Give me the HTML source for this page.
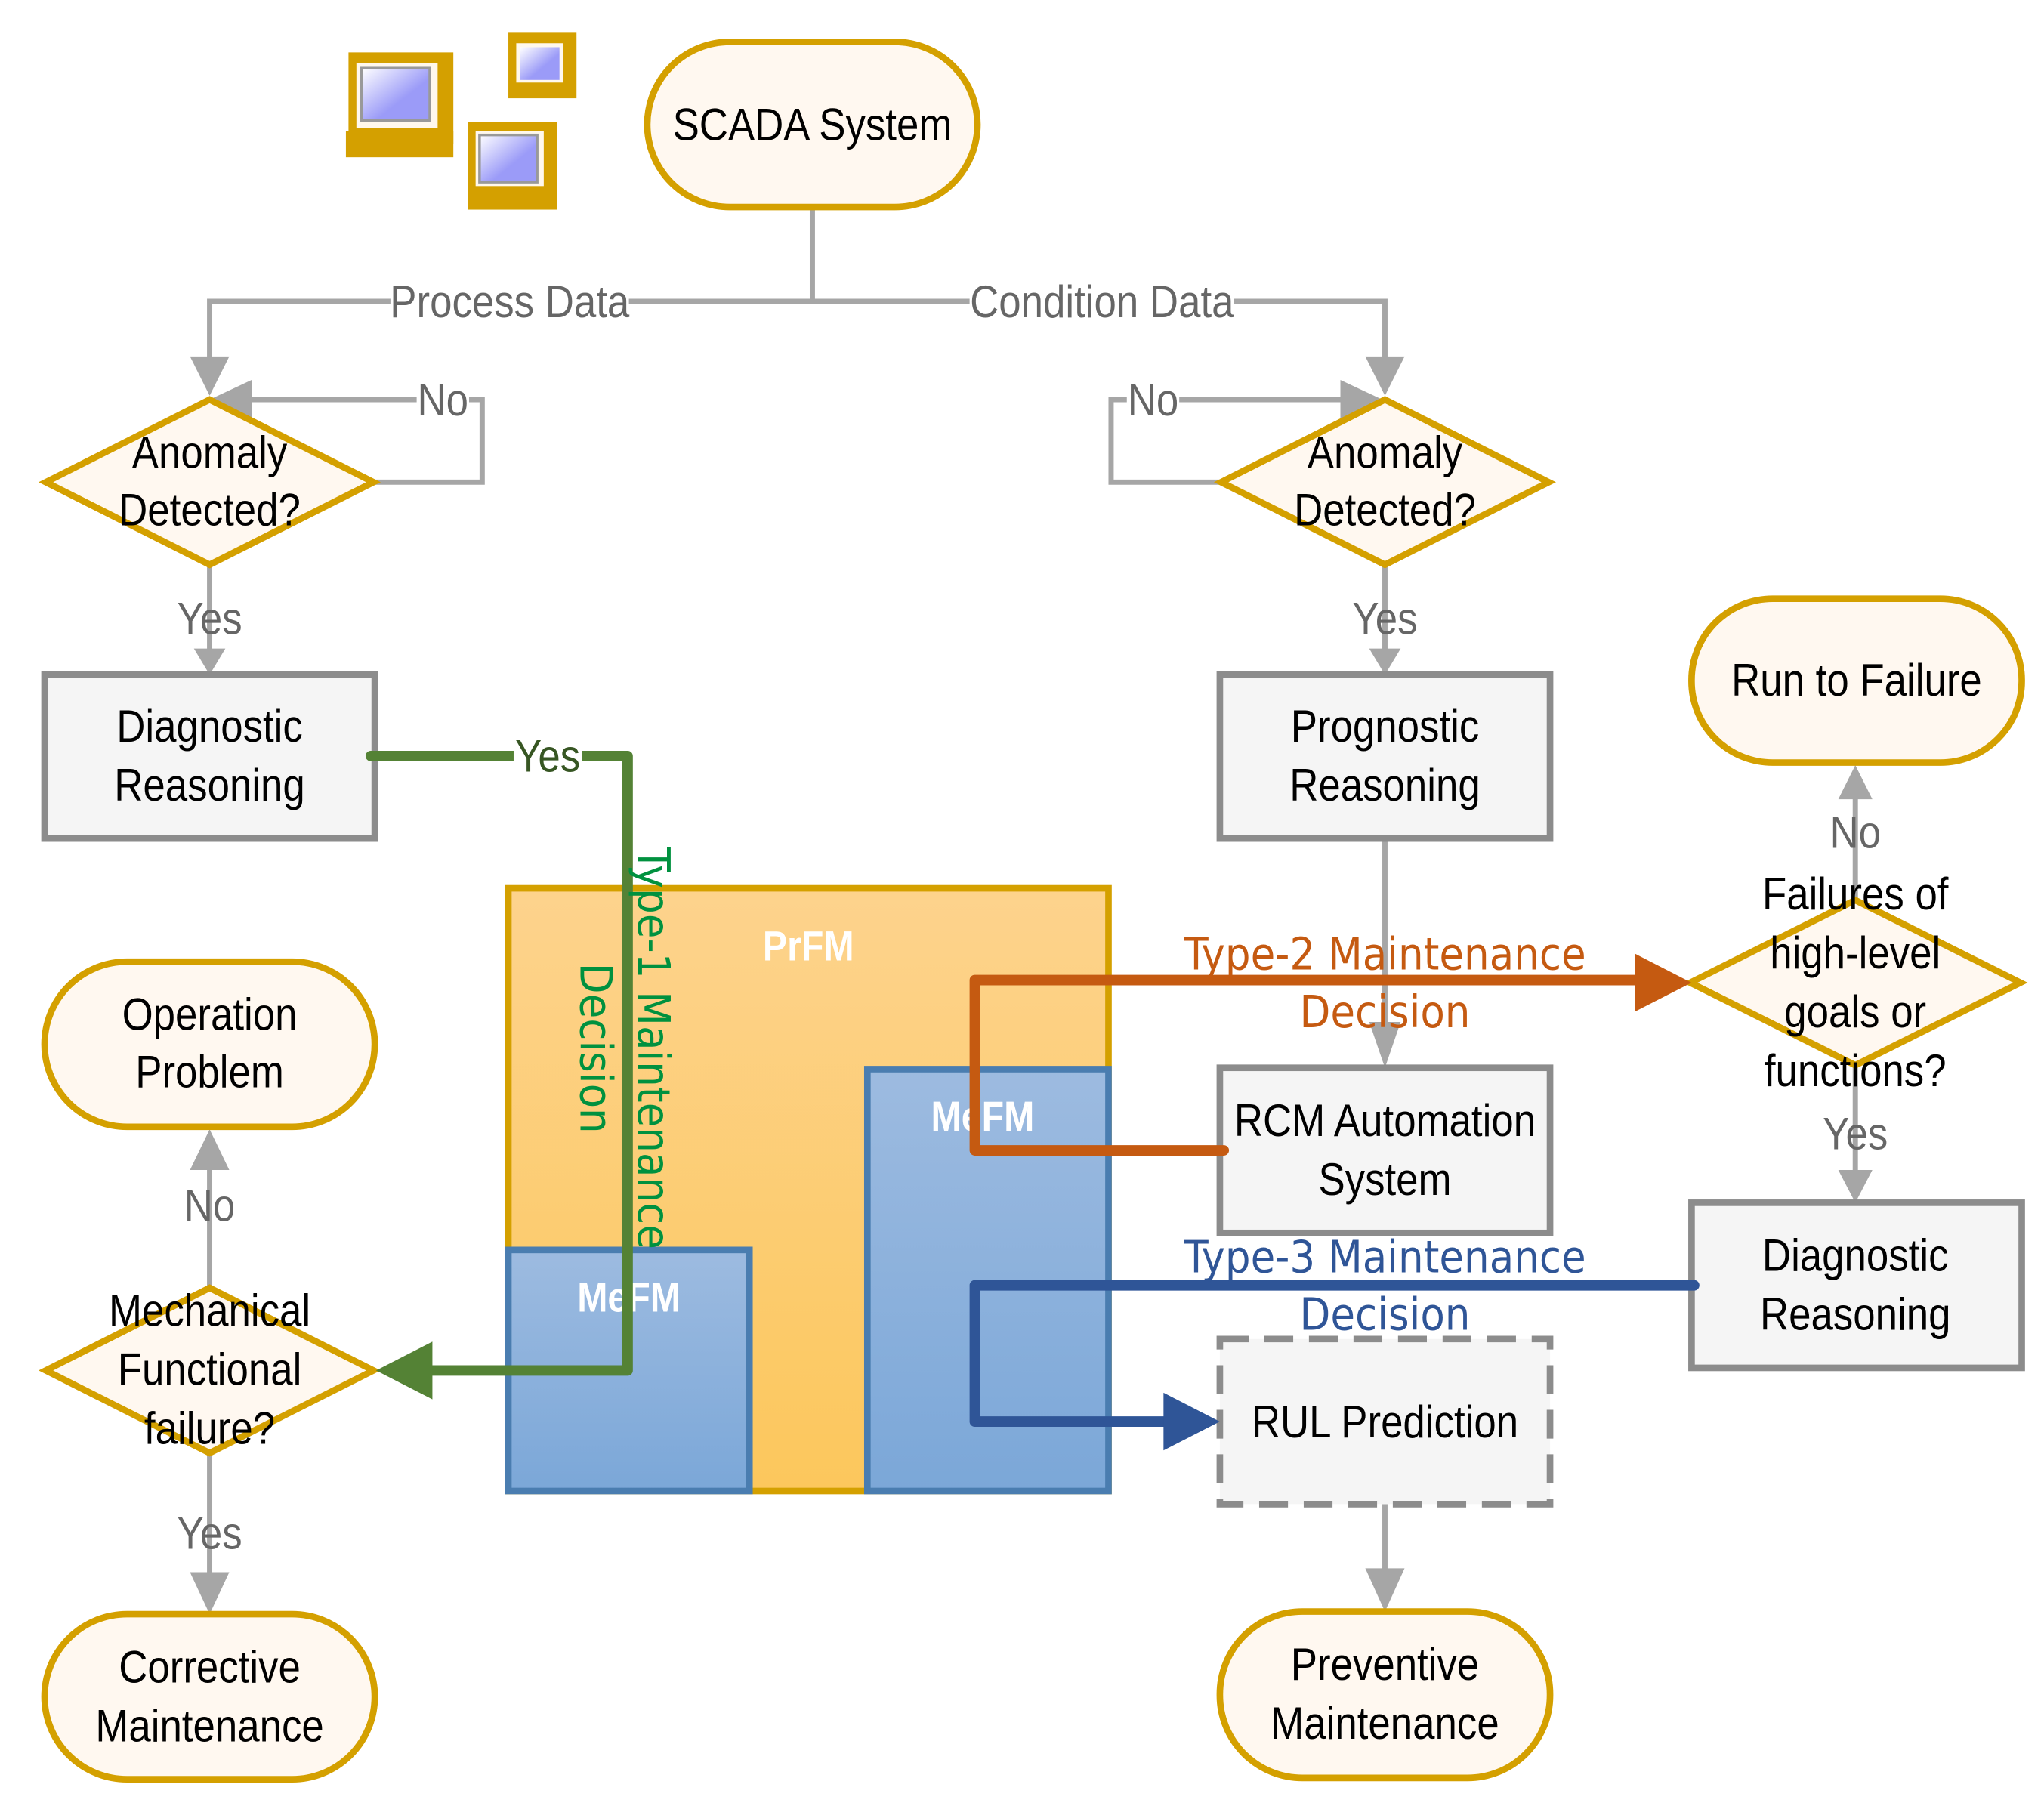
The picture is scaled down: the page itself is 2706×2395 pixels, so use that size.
<!DOCTYPE html>
<html><head><meta charset="utf-8"><style>
html,body{margin:0;padding:0;background:#fff}
svg{display:block}
text{font-family:"Liberation Sans",sans-serif}
.t{font-size:35px;fill:#000;text-anchor:middle}
.g{font-size:35px;fill:#666;text-anchor:middle}
.ty{font-family:"DejaVu Sans Condensed","DejaVu Sans",sans-serif;font-size:34px;text-anchor:middle}
.w{font-family:"Liberation Sans",sans-serif;font-weight:bold;font-size:32px;fill:#fff;text-anchor:middle}
</style></head><body>
<svg width="2706" height="2395" viewBox="0 0 1560 1380.7" preserveAspectRatio="none" xmlns="http://www.w3.org/2000/svg">
<defs>
<linearGradient id="og" x1="0" y1="0" x2="0" y2="1"><stop offset="0" stop-color="#FDD38D"/><stop offset="1" stop-color="#FCC75C"/></linearGradient>
<linearGradient id="bg" x1="0" y1="0" x2="0" y2="1"><stop offset="0" stop-color="#9DBBE0"/><stop offset="1" stop-color="#7BA7D8"/></linearGradient>
<linearGradient id="sc" x1="0" y1="0" x2="1" y2="1"><stop offset="0" stop-color="#fff"/><stop offset="0.6" stop-color="#9B9BF8"/></linearGradient>
</defs>
<g>
<rect x="266" y="40" width="80" height="70" fill="#D4A000"/><rect x="272" y="48" width="62" height="50" fill="#FFF8EC"/><rect x="276" y="52" width="52" height="40" fill="url(#sc)" stroke="#999" stroke-width="2"/>
<rect x="264" y="100" width="82" height="20" fill="#D4A000"/>
<rect x="388" y="25" width="52" height="50" fill="#D4A000"/><rect x="394" y="33" width="36" height="30" fill="#FFF8EC"/><rect x="397" y="36" width="30" height="25" fill="url(#sc)"/>
<rect x="357" y="93" width="68" height="67" fill="#D4A000"/><rect x="363" y="100" width="52" height="42" fill="#FFF8EC"/><rect x="366" y="103" width="44" height="36" fill="url(#sc)" stroke="#999" stroke-width="2"/>
</g>
<rect x="388" y="678" width="458" height="460" fill="url(#og)" stroke="#D4A000" stroke-width="5"/>
<rect x="388" y="954" width="184" height="184" fill="url(#bg)" stroke="#4A7DB0" stroke-width="5"/>
<rect x="662" y="816" width="184" height="322" fill="url(#bg)" stroke="#4A7DB0" stroke-width="5"/>
<text class="w" transform="translate(617 733) scale(.87 1)">PrFM</text>
<text class="w" transform="translate(480 1001) scale(.87 1)">MeFM</text>
<text class="w" transform="translate(750 863) scale(.87 1)">MeFM</text>
<g stroke="#A6A6A6" stroke-width="4" fill="none">
<path d="M620 158 V230 H160 V285"/><path d="M620 230 H1057 V285"/>
<path d="M285 368 H368 V305 H185"/><path d="M932 368 H848 V305 H1035"/>
<path d="M160 431 V500"/><path d="M1057 431 V500"/>
<path d="M1057 640 V795"/><path d="M1057 1148 V1210"/>
<path d="M1416 687 V605"/><path d="M1416 813 V898"/>
<path d="M160 983 V880"/><path d="M160 1109 V1212"/>
</g>
<g fill="#A6A6A6">
<polygon points="145,272 175,272 160,302"/><polygon points="1042,272 1072,272 1057,302"/>
<polygon points="160,305 192,290 192,320"/><polygon points="1055,305 1023,290 1023,320"/>
<polygon points="148,495 172,495 160,515"/><polygon points="1045,495 1069,495 1057,515"/>
<polygon points="1045,780 1069,780 1057,815"/><polygon points="1042,1197 1072,1197 1057,1230"/>
<polygon points="1403,610 1429,610 1416,584"/><polygon points="1403,893 1429,893 1416,918"/>
<polygon points="145,893 175,893 160,862"/><polygon points="145,1200 175,1200 160,1232"/>
</g>
<g stroke-width="5">
<rect x="494" y="32" width="252" height="126" rx="63" fill="#FFF8F0" stroke="#D4A000"/>
<polygon points="35,368 160,305 285,368 160,431" fill="#FFF8F0" stroke="#D4A000"/>
<polygon points="932,368 1057,305 1182,368 1057,431" fill="#FFF8F0" stroke="#D4A000"/>
<rect x="34" y="515" width="252" height="125" fill="#F5F5F5" stroke="#8C8C8C"/>
<rect x="931" y="515" width="252" height="125" fill="#F5F5F5" stroke="#8C8C8C"/>
<rect x="1291" y="457" width="252" height="125" rx="62" fill="#FFF8F0" stroke="#D4A000"/>
<polygon points="1290,750 1416,687 1542,750 1416,813" fill="#FFF8F0" stroke="#D4A000"/>
<rect x="1291" y="918" width="252" height="126" fill="#F5F5F5" stroke="#8C8C8C"/>
<rect x="34" y="734" width="252" height="126" rx="63" fill="#FFF8F0" stroke="#D4A000"/>
<polygon points="35,1046 160,983 285,1046 160,1109" fill="#FFF8F0" stroke="#D4A000"/>
<rect x="34" y="1232" width="252" height="126" rx="63" fill="#FFF8F0" stroke="#D4A000"/>
<rect x="931" y="815" width="252" height="126" fill="#F5F5F5" stroke="#8C8C8C"/>
<rect x="931" y="1022" width="252" height="126" fill="#F5F5F5" stroke="#8C8C8C" stroke-dasharray="22,12"/>
<rect x="931" y="1230" width="252" height="127" rx="63" fill="#FFF8F0" stroke="#D4A000"/>
</g>
<g fill="none" stroke-width="8" stroke-linejoin="round" stroke-linecap="round">
<path d="M283 577 H479 V1046 H325" stroke="#548235"/>
<path d="M934 878 H744 V748 H1250" stroke="#C55A11"/>
<path d="M1293 981 H744 V1085 H890" stroke="#2F5597"/>
</g>
<polygon points="287,1046 330,1024 330,1068" fill="#548235"/>
<polygon points="1291,750 1248,728 1248,772" fill="#C55A11"/>
<polygon points="931,1085 888,1063 888,1107" fill="#2F5597"/>
<rect x="298" y="210" width="182" height="40" fill="#fff"/><text class="g" transform="translate(389 242) scale(.87 1)">Process Data</text>
<rect x="740" y="210" width="202" height="40" fill="#fff"/><text class="g" transform="translate(841 242) scale(.87 1)">Condition Data</text>
<rect x="318" y="287" width="40" height="36" fill="#fff"/><text class="g" transform="translate(338 317) scale(.87 1)">No</text>
<rect x="860" y="287" width="40" height="36" fill="#fff"/><text class="g" transform="translate(880 317) scale(.87 1)">No</text>
<text class="g" transform="translate(160 484) scale(.87 1)">Yes</text><text class="g" transform="translate(1057 484) scale(.87 1)">Yes</text>
<text class="g" transform="translate(1416 647) scale(.87 1)">No</text><text class="g" transform="translate(1416 877) scale(.87 1)">Yes</text>
<text class="g" transform="translate(160 932) scale(.87 1)">No</text><text class="g" transform="translate(160 1182) scale(.87 1)">Yes</text>
<rect x="392" y="560" width="52" height="36" fill="#fff"/><text transform="translate(418 589) scale(.87 1)" style="font-size:35px;fill:#375623;text-anchor:middle">Yes</text>
<g class="t">
<text class="t" transform="translate(620 107) scale(.87 1)">SCADA System</text>
<text class="t" transform="translate(160 357) scale(.87 1)">Anomaly</text><text class="t" transform="translate(160 401) scale(.87 1)">Detected?</text>
<text class="t" transform="translate(1057 357) scale(.87 1)">Anomaly</text><text class="t" transform="translate(1057 401) scale(.87 1)">Detected?</text>
<text class="t" transform="translate(160 566) scale(.87 1)">Diagnostic</text><text class="t" transform="translate(160 611) scale(.87 1)">Reasoning</text>
<text class="t" transform="translate(1057 566) scale(.87 1)">Prognostic</text><text class="t" transform="translate(1057 611) scale(.87 1)">Reasoning</text>
<text class="t" transform="translate(1417 531) scale(.87 1)">Run to Failure</text>
<text class="t" transform="translate(1416 694) scale(.87 1)">Failures of</text><text class="t" transform="translate(1416 739) scale(.87 1)">high-level</text><text class="t" transform="translate(1416 784) scale(.87 1)">goals or</text><text class="t" transform="translate(1416 829) scale(.87 1)">functions?</text>
<text class="t" transform="translate(1416 970) scale(.87 1)">Diagnostic</text><text class="t" transform="translate(1416 1015) scale(.87 1)">Reasoning</text>
<text class="t" transform="translate(160 786) scale(.87 1)">Operation</text><text class="t" transform="translate(160 830) scale(.87 1)">Problem</text>
<text class="t" transform="translate(160 1012) scale(.87 1)">Mechanical</text><text class="t" transform="translate(160 1057) scale(.87 1)">Functional</text><text class="t" transform="translate(160 1102) scale(.87 1)">failure?</text>
<text class="t" transform="translate(160 1284) scale(.87 1)">Corrective</text><text class="t" transform="translate(160 1329) scale(.87 1)">Maintenance</text>
<text class="t" transform="translate(1057 867) scale(.87 1)">RCM Automation</text><text class="t" transform="translate(1057 912) scale(.87 1)">System</text>
<text class="t" transform="translate(1057 1097) scale(.87 1)">RUL Prediction</text>
<text class="t" transform="translate(1057 1282) scale(.87 1)">Preventive</text><text class="t" transform="translate(1057 1327) scale(.87 1)">Maintenance</text>
</g>
<text class="ty" x="1057" y="740" fill="#C55A11">Type-2 Maintenance</text><text class="ty" x="1057" y="784" fill="#C55A11">Decision</text>
<text class="ty" x="1057" y="971" fill="#2F5597">Type-3 Maintenance</text><text class="ty" x="1057" y="1015" fill="#2F5597">Decision</text>
<text class="ty" fill="#00913F" transform="translate(487,800) rotate(90)" x="0" y="0">Type-1 Maintenance</text>
<text class="ty" fill="#00913F" transform="translate(443,800) rotate(90)" x="0" y="0">Decision</text>
</svg>
</body></html>
